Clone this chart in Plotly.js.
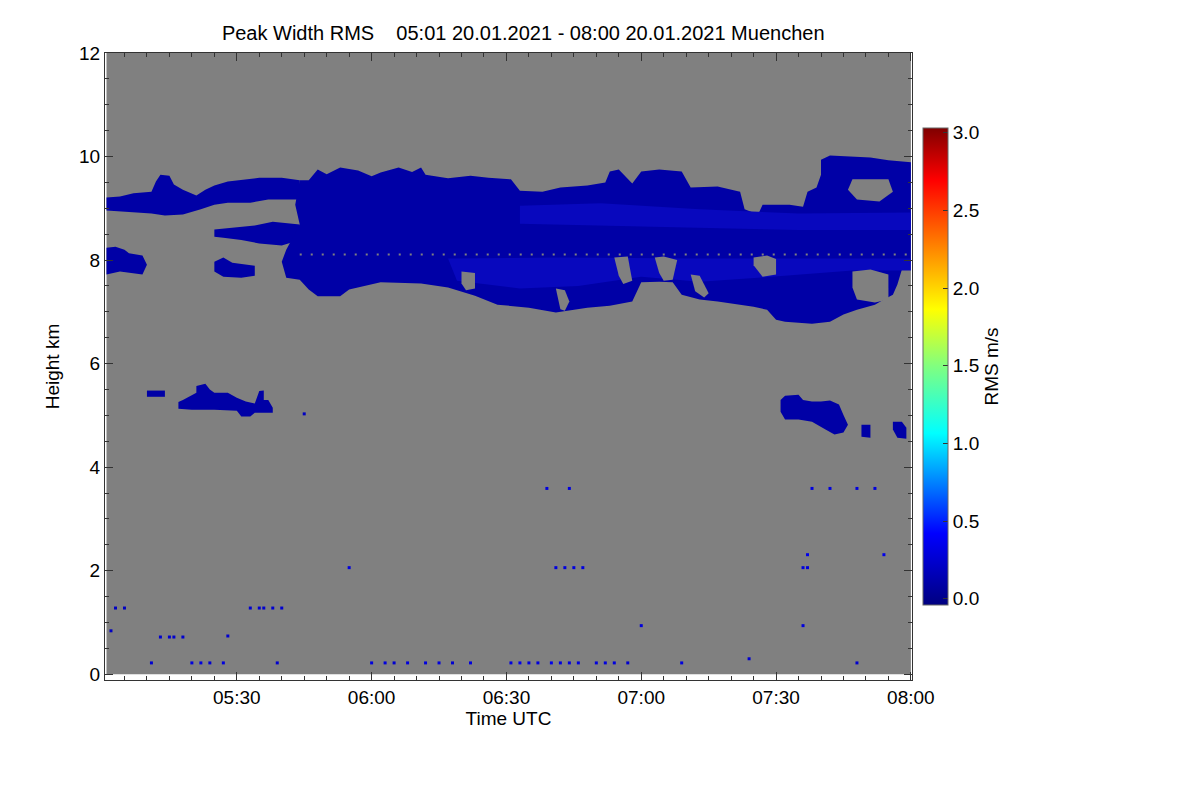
<!DOCTYPE html>
<html>
<head>
<meta charset="utf-8">
<script src="https://cdn.plot.ly/plotly-3.0.1.min.js"></script>
<style>
  html, body { margin: 0; padding: 0; background: #fff; }
  #plotDiv { width: 1200px; height: 800px; }
</style>
</head>
<body>
<div id="plotDiv"></div>
<script>
const day = '2021-01-20';

// measured span of the radar record
const spanTimes = ['05:01', '08:00'];
const spanHeights = [0, 12];

// cloud outlines (time UTC, height km)
const upperLeftT = ['05:01','05:04','05:07','05:11','05:12','05:13','05:15','05:16','05:18','05:21','05:23','05:25','05:28','05:32','05:35','05:40','05:44',
                    '05:44','05:37','05:33','05:28','05:25','05:22','05:18','05:14','05:11','05:07','05:04','05:01'];
const upperLeftH = [9.21,9.23,9.29,9.32,9.52,9.65,9.63,9.46,9.36,9.25,9.36,9.44,9.52,9.56,9.59,9.59,9.54,
                    9.17,9.17,9.11,9.11,9.07,8.98,8.88,8.86,8.90,8.92,8.94,8.96];

const fingerT = ['05:25','05:30','05:34','05:38','05:44','05:44','05:40','05:35','05:31','05:27','05:25'];
const fingerH = [8.59,8.63,8.67,8.74,8.69,8.39,8.28,8.32,8.39,8.43,8.45];

const mainT = ['05:41','05:40','05:41','05:44','05:43','05:44','05:46','05:48','05:50','05:53','05:57','06:00','06:02','06:06','06:09','06:11','06:12',
               '06:17','06:22','06:26','06:31','06:33','06:38','06:42','06:48','06:52','06:53','06:55','06:58','07:00','07:04','07:09','07:11','07:17',
               '07:22','07:23','07:26','07:27','07:33','07:36','07:37','07:39','07:40','07:40','07:42','07:46','07:51','07:55','08:00',
               '08:00','07:58','07:57','07:56','07:54','07:52','07:48','07:45','07:42','07:38','07:35','07:32','07:30','07:28','07:25','07:22',
               '07:17','07:13','07:09','07:07','07:04','07:00','06:58','06:53','06:48','06:41','06:35','06:28','06:23','06:17','06:11','06:02',
               '05:55','05:53','05:48','05:46','05:44'];
const mainH = [7.66,7.97,8.20,8.69,9.07,9.54,9.54,9.75,9.66,9.79,9.73,9.62,9.69,9.79,9.70,9.79,9.65,
               9.58,9.63,9.59,9.56,9.34,9.32,9.40,9.44,9.50,9.71,9.75,9.48,9.71,9.75,9.71,9.40,9.42,
               9.32,8.98,8.88,9.07,9.07,9.03,9.32,9.40,9.65,9.94,10.02,10.00,9.98,9.93,9.89,
               7.97,7.82,7.53,7.33,7.24,7.14,7.04,6.95,6.81,6.77,6.79,6.81,6.85,7.04,7.10,7.14,
               7.20,7.24,7.33,7.57,7.58,7.57,7.20,7.12,7.08,6.99,7.08,7.14,7.31,7.47,7.55,7.57,
               7.43,7.30,7.30,7.43,7.62];

const lowLeftT = ['05:01','05:03','05:05','05:06','05:09','05:10','05:09','05:06','05:04','05:01'];
const lowLeftH = [8.24,8.26,8.20,8.13,8.09,7.91,7.72,7.76,7.78,7.72];

const lowBlobT = ['05:25','05:27','05:29','05:32','05:34','05:34','05:31','05:27','05:25'];
const lowBlobH = [7.97,8.05,7.95,7.91,7.89,7.70,7.66,7.68,7.78];

const midSmallT = ['05:10','05:14','05:14','05:10'];
const midSmallH = [5.48,5.48,5.36,5.36];

const midLeftT = ['05:17','05:18','05:21','05:21','05:23','05:24','05:25','05:28','05:30','05:32','05:34','05:35','05:36','05:36','05:37','05:38',
                  '05:38','05:34','05:33','05:31','05:30','05:25','05:20','05:17'];
const midLeftH = [5.26,5.30,5.44,5.57,5.61,5.50,5.44,5.44,5.34,5.27,5.23,5.47,5.48,5.30,5.30,5.15,
                  5.05,5.05,4.98,4.98,5.09,5.11,5.11,5.13];

const midRightT = ['07:31','07:32','07:35','07:36','07:38','07:40','07:42','07:44','07:45','07:46','07:45','07:43','07:41','07:38','07:35','07:32','07:31'];
const midRightH = [5.30,5.38,5.40,5.30,5.27,5.27,5.29,5.21,5.01,4.82,4.67,4.63,4.73,4.88,4.92,4.92,5.07];

const dropAT = ['07:49','07:51','07:51','07:49'];
const dropAH = [4.82,4.82,4.57,4.59];
const dropBT = ['07:56','07:58','07:59','07:59','07:57','07:56'];
const dropBH = [4.88,4.88,4.76,4.55,4.57,4.73];

// brighter (wider peak) patches inside the main layer
const brightUpT = ['06:33','06:51','07:13','07:35','08:00','08:00','07:35','07:13','06:51','06:33'];
const brightUpH = [9.05,9.10,8.98,8.90,8.92,8.58,8.58,8.62,8.66,8.70];
const brightLowT = ['06:17','06:42','07:13','07:35','08:00','08:00','07:47','07:26','07:13','07:00','06:46','06:33','06:19'];
const brightLowH = [8.03,8.05,8.03,8.03,8.03,7.80,7.80,7.66,7.58,7.68,7.50,7.45,7.60];

// gaps without signal inside the layer
const gapTopT = ['07:47','07:55','07:56','07:53','07:48','07:46'];
const gapTopH = [9.56,9.56,9.32,9.13,9.17,9.36];
const gapLowT = ['07:47','07:51','07:55','07:55','07:52','07:48','07:47'];
const gapLowH = [7.78,7.82,7.72,7.24,7.18,7.24,7.47];
const gapMidT = ['07:25','07:28','07:30','07:30','07:27','07:26','07:25'];
const gapMidH = [8.05,8.09,8.02,7.72,7.68,7.80,7.90];
const gapStreakT = ['06:54','06:57','06:58','06:56','06:55'];
const gapStreakH = [8.05,8.07,7.60,7.54,7.70];
const gapStreak2T = ['06:20','06:23','06:23','06:21','06:20'];
const gapStreak2H = [7.78,7.75,7.45,7.42,7.55];
const gapStreak3T = ['06:41','06:43','06:44','06:43','06:42'];
const gapStreak3H = [7.45,7.42,7.20,7.02,7.05];
const gapStreak4T = ['07:11','07:13','07:15','07:14','07:12'];
const gapStreak4H = [7.72,7.70,7.36,7.28,7.40];
const gapStreak5T = ['07:03','07:05','07:08','07:07','07:05','07:04'];
const gapStreak5H = [8.05,8.07,8.00,7.62,7.60,7.75];
const gapLineT = ['05:44','08:00'];
const gapLineH = [8.11,8.11];

// isolated single range gates
const speckT = ['05:11','05:20','05:22','05:24','05:27','05:39','06:00','06:03','06:05','06:08','06:12','06:15','06:18','06:22',
                '06:31','06:33','06:35','06:37','06:40','06:42','06:44','06:46','06:50','06:52','06:54','06:57','07:09','07:48',
                '05:03','05:05','05:33','05:35','05:36','05:38','05:40',
                '05:13','05:15','05:16','05:18','05:28','05:02','07:00','07:36','07:24',
                '05:55','06:41','06:43','06:45','06:47','07:36','07:37','07:37','07:54',
                '06:39','06:44','07:38','07:42','07:48','07:52','05:45'];
const speckH = [0.22,0.22,0.22,0.22,0.22,0.22,0.22,0.22,0.22,0.22,0.22,0.22,0.22,0.22,
                0.22,0.22,0.22,0.22,0.22,0.22,0.22,0.22,0.22,0.22,0.22,0.22,0.22,0.22,
                1.28,1.28,1.28,1.28,1.28,1.28,1.28,
                0.72,0.72,0.72,0.72,0.74,0.84,0.94,0.94,0.30,
                2.06,2.06,2.06,2.06,2.06,2.06,2.06,2.31,2.31,
                3.59,3.59,3.59,3.59,3.59,3.59,5.03];
const speckV = [0.25,0.3,0.3,0.25,0.3,0.25,0.3,0.3,0.25,0.3,0.3,0.3,0.25,0.3,
                0.3,0.35,0.3,0.3,0.35,0.3,0.3,0.3,0.3,0.3,0.3,0.25,0.3,0.25,
                0.2,0.2,0.25,0.25,0.25,0.25,0.25,
                0.25,0.25,0.25,0.25,0.25,0.2,0.3,0.3,0.25,
                0.3,0.3,0.3,0.3,0.3,0.3,0.3,0.35,0.35,
                0.3,0.3,0.3,0.3,0.3,0.3,0.2];

const rmsTicks = [0, 0.5, 1, 1.5, 2, 2.5, 3];
const rmsTickText = ['0.0', '0.5', '1.0', '1.5', '2.0', '2.5', '3.0'];

const toTime = (hm) => day + ' ' + hm + ':00';

const rmsScale = [
    [0, 'rgb(0,0,128)'],
    [0.15, 'rgb(0,0,255)'],
    [0.36, 'rgb(0,255,255)'],
    [0.5, 'rgb(128,255,128)'],
    [0.62, 'rgb(255,255,0)'],
    [0.89, 'rgb(255,0,0)'],
    [1, 'rgb(128,0,0)']
];

function area(times, heights, color) {
    return {
        x: times.map(toTime),
        y: heights,
        type: 'scatter',
        mode: 'lines',
        fill: 'toself',
        fillcolor: color,
        line: {width: 0, color: color},
        hoverinfo: 'skip',
        showlegend: false
    };
}

const cloudBlue = 'rgb(0,0,166)';
const brightBlue = 'rgb(8,8,190)';
const noData = 'rgb(128,128,128)';

let data = [
    area([spanTimes[0], spanTimes[1], spanTimes[1], spanTimes[0]],
         [spanHeights[0], spanHeights[0], spanHeights[1], spanHeights[1]], noData),
    area(upperLeftT, upperLeftH, cloudBlue),
    area(fingerT, fingerH, cloudBlue),
    area(mainT, mainH, cloudBlue),
    area(lowLeftT, lowLeftH, cloudBlue),
    area(lowBlobT, lowBlobH, cloudBlue),
    area(midSmallT, midSmallH, cloudBlue),
    area(midLeftT, midLeftH, cloudBlue),
    area(midRightT, midRightH, cloudBlue),
    area(dropAT, dropAH, cloudBlue),
    area(dropBT, dropBH, cloudBlue),
    area(brightUpT, brightUpH, brightBlue),
    area(brightLowT, brightLowH, brightBlue),
    area(gapTopT, gapTopH, noData),
    area(gapLowT, gapLowH, noData),
    area(gapMidT, gapMidH, noData),
    area(gapStreakT, gapStreakH, noData),
    area(gapStreak2T, gapStreak2H, noData),
    area(gapStreak3T, gapStreak3H, noData),
    area(gapStreak4T, gapStreak4H, noData),
    area(gapStreak5T, gapStreak5H, noData),
    {
        x: gapLineT.map(toTime),
        y: gapLineH,
        type: 'scatter',
        mode: 'lines',
        line: {color: noData, width: 2, dash: '2px,9px'},
        hoverinfo: 'skip',
        showlegend: false
    },
    {
        x: speckT.map(toTime),
        y: speckH,
        type: 'scatter',
        mode: 'markers',
        marker: {
            symbol: 'square',
            size: 3,
            color: speckV,
            colorscale: rmsScale,
            cmin: -0.04,
            cmax: 3.03,
            showscale: true,
            line: {width: 0},
            colorbar: {
                x: 1.0136,
                xanchor: 'left',
                xref: 'paper',
                y: 0.5,
                yanchor: 'middle',
                len: 0.761,
                lenmode: 'fraction',
                thickness: 25,
                xpad: 0,
                ypad: 0,
                outlinewidth: 1,
                outlinecolor: '#666',
                tickmode: 'array',
                tickvals: rmsTicks,
                ticktext: rmsTickText,
                ticks: 'inside',
                ticklen: 5,
                tickcolor: '#333',
                tickfont: {family: 'Liberation Sans, Arial, sans-serif', size: 19, color: '#000'},
                title: {
                    text: 'RMS m/s',
                    side: 'right',
                    font: {family: 'Liberation Sans, Arial, sans-serif', size: 19, color: '#000'}
                }
            }
        },
        hoverinfo: 'skip',
        showlegend: false
    }
];

const font = {family: 'Liberation Sans, Arial, sans-serif', size: 19, color: '#000'};

let layout = {
    width: 1200,
    height: 800,
    margin: {l: 105, r: 288, t: 53, b: 120},
    paper_bgcolor: '#fff',
    plot_bgcolor: '#fff',
    font: font,
    showlegend: false,
    title: {
        text: 'Peak Width RMS\u00a0\u00a0\u00a0 05:01 20.01.2021 - 08:00 20.01.2021 Muenchen',
        font: {family: 'Liberation Sans, Arial, sans-serif', size: 20, color: '#000'},
        xref: 'container',
        yref: 'container',
        x: 0.436,
        xanchor: 'center',
        y: 0.959,
        yanchor: 'middle'
    },
    xaxis: {
        type: 'date',
        range: [day + ' 05:00:40', day + ' 08:00:15'],
        tick0: day + ' 05:00:00',
        dtick: 30 * 60 * 1000,
        tickformat: '%H:%M',
        ticks: 'inside',
        ticklen: 8,
        tickcolor: '#333',
        minor: {dtick: 5 * 60 * 1000, ticks: 'inside', ticklen: 4, tickcolor: '#333'},
        showline: true,
        linecolor: '#333',
        linewidth: 1,
        mirror: 'ticks',
        showgrid: false,
        zeroline: false,
        tickfont: font,
        title: {text: 'Time UTC', font: font, standoff: 2}
    },
    yaxis: {
        range: [-0.11, 12],
        dtick: 2,
        tick0: 0,
        ticks: 'inside',
        ticklen: 8,
        tickcolor: '#333',
        minor: {dtick: 0.5, ticks: 'inside', ticklen: 4, tickcolor: '#333'},
        showline: true,
        linecolor: '#333',
        linewidth: 1,
        mirror: 'ticks',
        showgrid: false,
        zeroline: false,
        tickfont: font,
        title: {text: 'Height km', font: font, standoff: 14}
    }
};

let config = {staticPlot: true};

Plotly.newPlot('plotDiv', data, layout, config);
</script>
</body>
</html>
